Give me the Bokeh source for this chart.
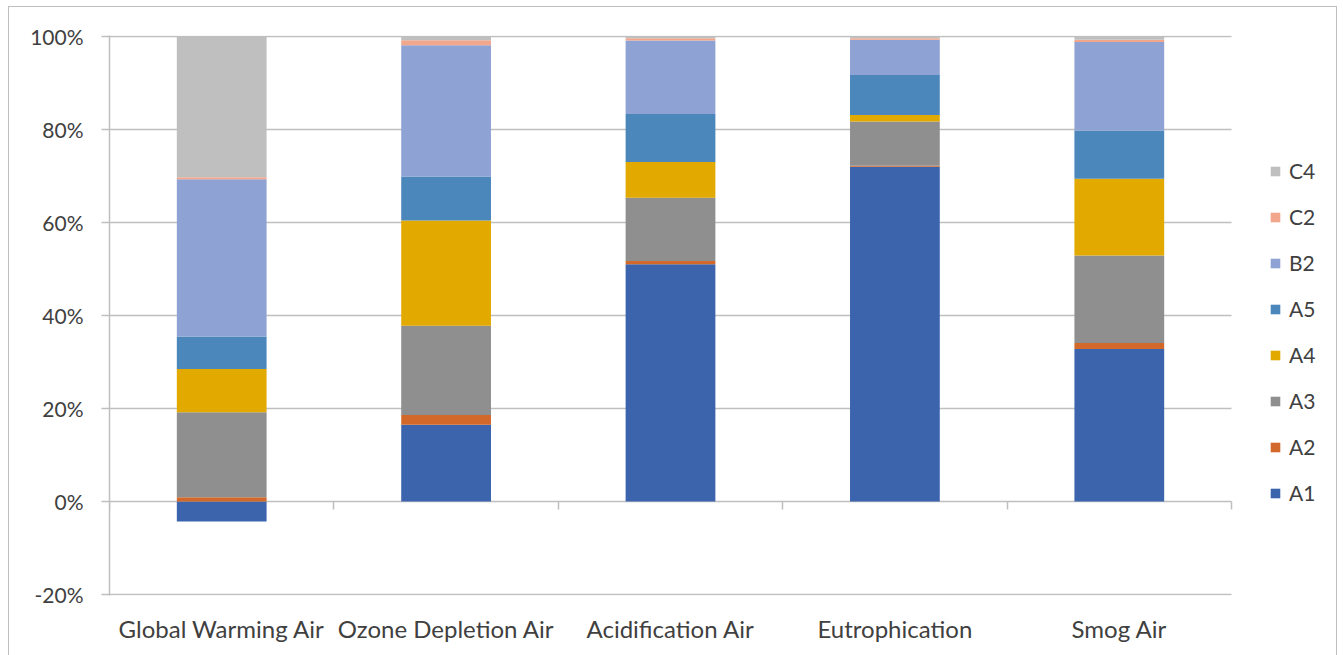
from bokeh.plotting import figure
from bokeh.models import ColumnDataSource, LinearAxis, Legend, LegendItem, FixedTicker, Range1d
from bokeh.embed import file_html
from bokeh.resources import INLINE

categories = ["Global Warming Air", "Ozone Depletion Air", "Acidification Air", "Eutrophication", "Smog Air"]
series = ["A1", "A2", "A3", "A4", "A5", "B2", "C2", "C4"]
A1 = [-4.3, 16.5, 51.0, 72.0, 32.8]
A2 = [0.9, 2.1, 0.7, 0.2, 1.3]
A3 = [18.3, 19.2, 13.6, 9.5, 18.8]
A4 = [9.3, 22.6, 7.7, 1.4, 16.5]
A5 = [7.0, 9.5, 10.3, 8.6, 10.4]
B2 = [33.8, 28.2, 15.8, 7.6, 19.0]
C2 = [0.4, 1.1, 0.5, 0.3, 0.5]
C4 = [30.3, 0.8, 0.4, 0.4, 0.7]
y_ticks = [-20, 0, 20, 40, 60, 80, 100]
y_tick_labels = ["-20%", "0%", "20%", "40%", "60%", "80%", "100%"]
colors = ["#3B64AD", "#D2692A", "#8F8F8F", "#E2A900", "#4B87BB", "#8FA2D4", "#F2A68B", "#BFBFBF"]

data = [A1, A2, A3, A4, A5, B2, C2, C4]

FONT = "Lato"
TXT = "#404040"
GRID = "#BFBFBF"
ncat = len(categories)
FRAME_W = 1227
PLOT_W = 1122  # width of the category area inside the frame
x_end = ncat * FRAME_W / PLOT_W

p = figure(width=1327, height=648, frame_width=FRAME_W, frame_height=560,
           x_range=Range1d(0, x_end), y_range=Range1d(-20.2, 100.2),
           output_backend="svg", toolbar_location=None,
           min_border_left=100, min_border_top=28, min_border_bottom=60, min_border_right=0,
           x_axis_location=None, y_axis_location=None)
p.margin = (6, 0, 0, 8)
p.styles = {"border": "1px solid #BFBFBF", "box-sizing": "border-box"}
p.outline_line_color = None
p.background_fill_color = "white"
p.border_fill_color = "white"
p.xgrid.visible = False
p.ygrid.visible = False

# horizontal gridlines limited to the category area
p.segment(x0=[0] * len(y_ticks), x1=[ncat] * len(y_ticks), y0=y_ticks, y1=y_ticks,
          line_color=GRID, line_width=1.5)

# stacked bars
pos = [0.0] * ncat
neg = [0.0] * ncat
xs = [i + 0.5 for i in range(ncat)]
renderers = []
for name, vals, col in zip(series, data, colors):
    bottoms, tops = [], []
    for i, v in enumerate(vals):
        if v >= 0:
            bottoms.append(pos[i]); tops.append(pos[i] + v); pos[i] += v
        else:
            bottoms.append(neg[i]); tops.append(neg[i] + v); neg[i] += v
    src = ColumnDataSource(dict(x=xs, bottom=bottoms, top=tops))
    r = p.vbar(x="x", bottom="bottom", top="top", width=0.4, source=src,
               fill_color=col, line_color=None)
    renderers.append((name, r))

# y axis
yax = LinearAxis(ticker=FixedTicker(ticks=y_ticks))
yax.major_label_overrides = {t: l for t, l in zip(y_ticks, y_tick_labels)}
yax.axis_line_color = GRID
yax.axis_line_width = 1.5
yax.major_tick_line_color = GRID
yax.major_tick_line_width = 1.5
yax.major_tick_out = 8
yax.major_tick_in = 0
yax.minor_tick_line_color = None
yax.major_label_text_font = FONT
yax.major_label_text_font_size = "21px"
yax.major_label_text_color = TXT
yax.major_label_standoff = 18
p.add_layout(yax, "left")

# category separator ticks on the 0% line
xax0 = LinearAxis(ticker=FixedTicker(ticks=list(range(ncat + 1))))
xax0.fixed_location = 0
xax0.axis_line_color = None
xax0.major_tick_line_color = GRID
xax0.major_tick_line_width = 1.5
xax0.major_tick_out = 8
xax0.major_tick_in = 0
xax0.minor_tick_line_color = None
xax0.major_label_text_font_size = "0px"
xax0.major_label_text_alpha = 0
p.add_layout(xax0, "below")

# category labels at bottom
xax = LinearAxis(ticker=FixedTicker(ticks=xs))
xax.major_label_overrides = {x: c for x, c in zip(xs, categories)}
xax.axis_line_color = None
xax.major_tick_line_color = None
xax.minor_tick_line_color = None
xax.major_label_text_font = FONT
xax.major_label_text_font_size = "24px"
xax.major_label_text_color = TXT
xax.major_label_standoff = 12
p.add_layout(xax, "below")

items = [LegendItem(label=n, renderers=[r]) for n, r in reversed(renderers)]
legend = Legend(items=items, location=(1160, 90), orientation="vertical")
legend.glyph_width = 12
legend.glyph_height = 12
legend.label_height = 24
legend.spacing = 21
legend.label_standoff = 8
legend.padding = 5
legend.margin = 0
legend.border_line_color = None
legend.background_fill_alpha = 0
legend.label_text_font = FONT
legend.label_text_font_size = "21px"
legend.label_text_color = TXT
p.add_layout(legend)

open("out.html", "w").write(file_html(p, INLINE))
